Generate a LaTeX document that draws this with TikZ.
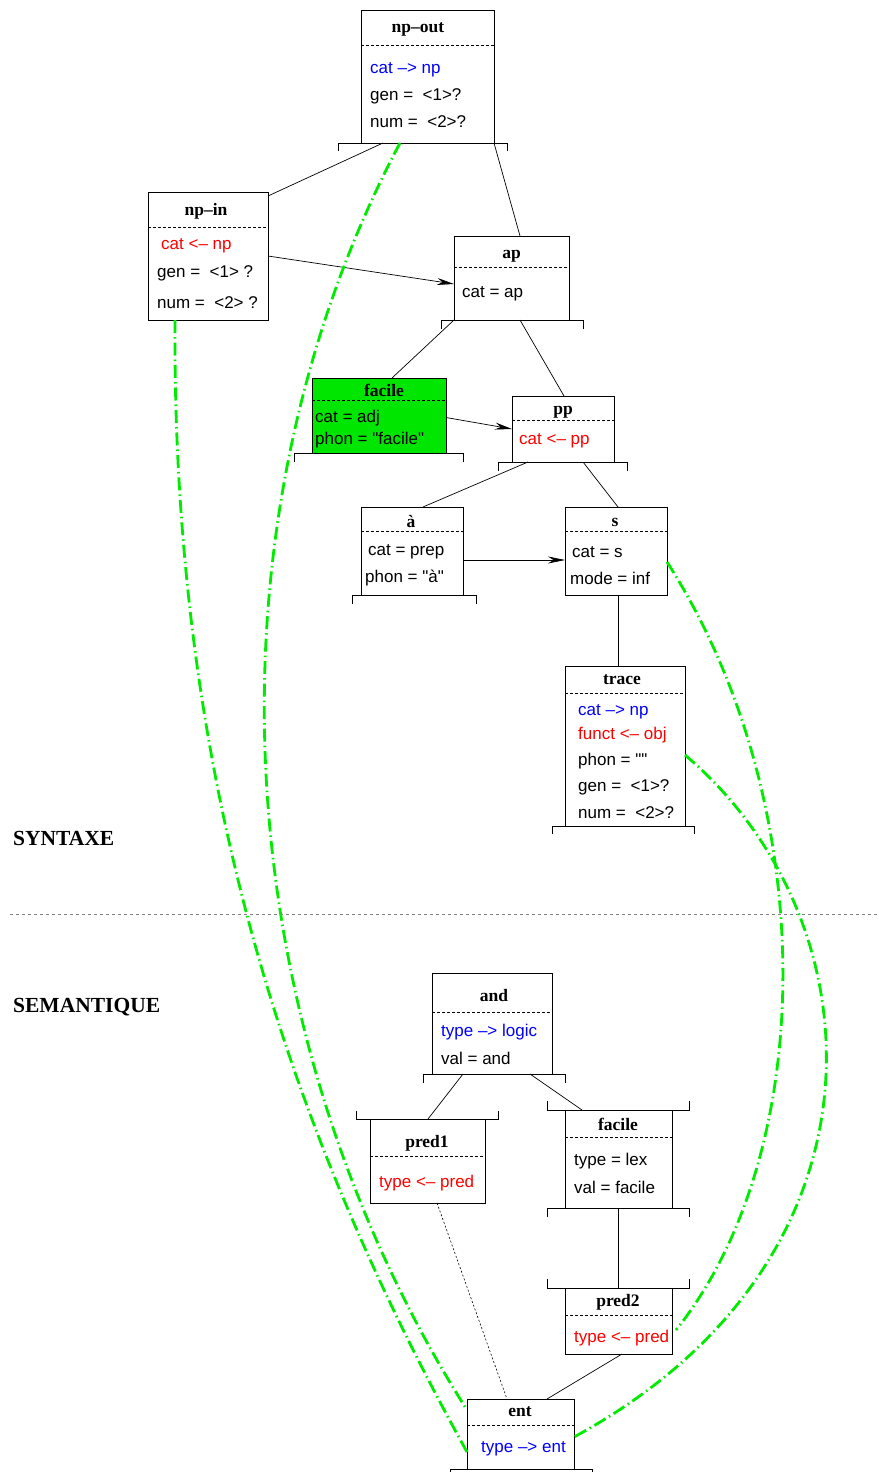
\documentclass[tikz,border=0pt]{standalone}
\usepackage{fontspec}
\setmainfont{Liberation Serif}
\newfontfamily\featfont{Liberation Sans}
\usetikzlibrary{arrows.meta, calc}
\definecolor{linkgreen}{RGB}{0,235,0}
\definecolor{boxgreen}{RGB}{0,230,0}

\begin{document}
\begin{tikzpicture}[x=1pt, y=-1pt,
  fsbox/.style={draw, line width=0.9pt, anchor=north west, inner sep=0pt, outer sep=0pt},
  ftitle/.style={font=\fontsize{17.5}{20}\selectfont\bfseries, inner sep=0pt, yshift=-2pt},
  feat/.style={font=\fontsize{17}{20}\selectfont\featfont, anchor=west, inner sep=0pt, yshift=-3pt},
  section/.style={font=\fontsize{21.5}{24}\selectfont\bfseries, anchor=west, inner sep=0pt, yshift=-1pt},
  sep/.style={dash pattern=on 3pt off 2pt, line width=0.7pt},
  branch/.style={line width=0.7pt},
  arrow/.style={line width=0.7pt, -{Stealth[length=17pt, width=7pt]}},
  corr/.style={draw=linkgreen, line width=2.8pt, dash pattern=on 13pt off 4pt on 1.5pt off 4pt}]
  \useasboundingbox (0,0) rectangle (878,1472);

  % syntax boxes
  \node[fsbox, minimum width=133pt, minimum height=133pt] (npout) at (361,10) {};
  \node[ftitle] at (418,27) {np--out};
  \draw[sep] (npout.west |- 0,45) -- (npout.east |- 0,45);
  \node[feat, blue] at (370,67) {cat –> np};
  \node[feat] at (370,93) {gen =\ \ <1>?};
  \node[feat] at (370,119) {num =\ \ <2>?};
  \draw[branch] (338,151) |- (507,143) -- ++(0,8);

  \node[fsbox, minimum width=120pt, minimum height=128pt] (npin) at (148,192) {};
  \node[ftitle] at (206,209) {np--in};
  \draw[sep] (npin.west |- 0,227) -- (npin.east |- 0,227);
  \node[feat, red] at (161,243) {cat <– np};
  \node[feat] at (157,270) {gen =\ \ <1> ?};
  \node[feat] at (157,300) {num =\ \ <2> ?};

  \node[fsbox, minimum width=115pt, minimum height=84pt] (ap) at (454,236) {};
  \node[ftitle] at (511.5,254) {ap};
  \draw[sep] (ap.west |- 0,267) -- (ap.east |- 0,267);
  \node[feat] at (462,291) {cat = ap};
  \draw[branch] (441,329) |- (583,320) -- ++(0,9);

  \node[fsbox, fill=boxgreen, minimum width=134pt, minimum height=75pt] (adj) at (312,378) {};
  \node[ftitle] at (384,388) {facile};
  \draw[sep] (adj.west |- 0,400) -- (adj.east |- 0,400);
  \node[feat] at (315,415) {cat = adj};
  \node[feat] at (315,437) {phon = "facile"};
  \draw[branch] (294,462) |- (463,453) -- ++(0,9);

  \node[fsbox, minimum width=102pt, minimum height=66pt] (pp) at (512,396) {};
  \node[ftitle] at (563,410) {pp};
  \draw[sep] (pp.west |- 0,420) -- (pp.east |- 0,420);
  \node[feat, red] at (519,438) {cat <– pp};
  \draw[branch] (498,471) |- (627,462) -- ++(0,9);

  \node[fsbox, minimum width=102pt, minimum height=88pt] (prep) at (361,507) {};
  \node[ftitle] at (411,520) {à};
  \draw[sep] (prep.west |- 0,531) -- (prep.east |- 0,531);
  \node[feat] at (368,549) {cat = prep};
  \node[feat] at (365,575) {phon = "à"};
  \draw[branch] (352,604) |- (476,595) -- ++(0,9);

  \node[fsbox, minimum width=102pt, minimum height=88pt] (s) at (565,507) {};
  \node[ftitle] at (615,520) {s};
  \draw[sep] (s.west |- 0,531) -- (s.east |- 0,531);
  \node[feat] at (572,549) {cat = s};
  \node[feat] at (570,575) {mode = inf};

  \node[fsbox, minimum width=120pt, minimum height=160pt] (trace) at (565,666) {};
  \node[ftitle] at (622,678) {trace};
  \draw[sep] (trace.west |- 0,693) -- (trace.east |- 0,693);
  \node[feat, blue] at (578,709) {cat –> np};
  \node[feat, red] at (578,732) {funct <– obj};
  \node[feat] at (578,758) {phon = ""};
  \node[feat] at (578,784) {gen =\ \ <1>?};
  \node[feat] at (578,810) {num =\ \ <2>?};
  \draw[branch] (552,834) |- (694,826) -- ++(0,8);

  % syntax tree
  \draw[branch] ([xshift=22pt]npout.south west) -- ([yshift=-4pt]npin.north east);
  \draw[branch] (npout.south east) -- ([xshift=66pt]ap.north west);
  \draw[arrow] (npin.east) -- ([yshift=-6pt]ap.west);
  \draw[branch] (ap.south west) -- ([xshift=80pt]adj.north west);
  \draw[branch] ([xshift=66pt]ap.south west) -- ([xshift=52pt]pp.north west);
  \draw[arrow] ([yshift=-2pt]adj.east) -- (pp.west);
  \draw[branch] ([xshift=16pt]pp.south west) -- ([xshift=62pt]prep.north west);
  \draw[branch] ([xshift=71pt]pp.south west) -- ([xshift=53pt]s.north west);
  \draw[arrow] ([yshift=-9pt]prep.east) -- ([yshift=-9pt]s.west);
  \draw[branch] ([xshift=53pt]s.south west) -- ([xshift=53pt]trace.north west);

  % sections
  \node[section] (syn) at (13,837) {SYNTAXE};
  \node[section] (sem) at (13,1006) {SEMANTIQUE};
  \draw[gray, line width=1pt, dash pattern=on 3pt off 3pt] (10,914) -- (878,914);

  % semantic boxes
  \node[fsbox, minimum width=120pt, minimum height=101pt] (and) at (432,973) {};
  \node[ftitle] at (494,994) {and};
  \draw[sep] (and.west |- 0,1012) -- (and.east |- 0,1012);
  \node[feat, blue] at (441,1029) {type –> logic};
  \node[feat] at (441,1055) {val = and};
  \draw[branch] (423,1083) |- (565,1074) -- ++(0,9);

  \node[fsbox, minimum width=115pt, minimum height=84pt] (pred1) at (370,1119) {};
  \node[ftitle] at (427,1141) {pred1};
  \draw[sep] (pred1.west |- 0,1156) -- (pred1.east |- 0,1156);
  \node[feat, red] at (379,1180) {type <– pred};
  \draw[branch] (356,1111) |- (498,1119) -- ++(0,-8);

  \node[fsbox, minimum width=107pt, minimum height=98pt] (facsem) at (565,1110) {};
  \node[ftitle] at (618,1122) {facile};
  \draw[sep] (facsem.west |- 0,1137) -- (facsem.east |- 0,1137);
  \node[feat] at (574,1158) {type = lex};
  \node[feat] at (574,1184) {val = facile};
  \draw[branch] (547,1101) |- (689,1110) -- ++(0,-9);
  \draw[branch] (547,1217) |- (689,1208) -- ++(0,9);

  \node[fsbox, minimum width=107pt, minimum height=66pt] (pred2) at (565,1288) {};
  \node[ftitle] at (618,1300) {pred2};
  \draw[sep] (pred2.west |- 0,1315) -- (pred2.east |- 0,1315);
  \node[feat, red] at (574,1335) {type <– pred};
  \draw[branch] (547,1279) |- (689,1288) -- ++(0,-9);

  \node[fsbox, minimum width=107pt, minimum height=70pt] (ent) at (467,1399) {};
  \node[ftitle] at (520,1410) {ent};
  \draw[sep] (ent.west |- 0,1425) -- (ent.east |- 0,1425);
  \node[feat, blue] at (481,1446) {type –> ent};
  \draw[branch] (450,1478) |- (592,1469) -- ++(0,9);

  % semantic tree
  \draw[branch] ([xshift=31pt]and.south west) -- ([xshift=58pt]pred1.north west);
  \draw[branch] ([xshift=98pt]and.south west) -- ([xshift=17pt]facsem.north west);
  \draw[branch] (facsem.south) -- (pred2.north);
  \draw[branch] ([xshift=57pt]pred2.south west) -- ([xshift=80pt]ent.north west);
  \draw[line width=0.6pt, dash pattern=on 2pt off 2pt] ([xshift=67pt]pred1.south west) -- ([xshift=40pt]ent.north west);

  % links between syntax and semantics
  \draw[corr] ([xshift=27pt]npin.south west) .. controls (172,800) and (300,1150) .. ([yshift=-18pt]ent.west);
  \draw[corr] ([xshift=39pt]npout.south west) .. controls (200,520) and (220,1020) .. ([yshift=24pt]ent.west);
  \draw[corr] ([yshift=-11pt]s.east) .. controls (820,800) and (820,1150) .. ([xshift=4pt,yshift=-9pt]pred2.east);
  \draw[corr] ([yshift=-9pt]trace.east) .. controls (880,920) and (900,1260) .. ([yshift=-3pt]ent.east);
\end{tikzpicture}
\end{document}
